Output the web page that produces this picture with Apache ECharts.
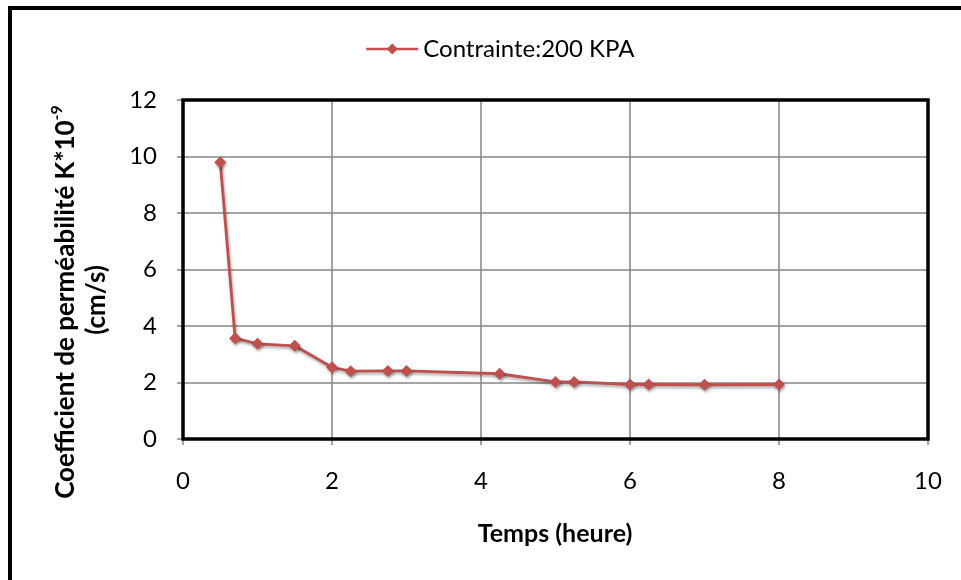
<!DOCTYPE html>
<html>
<head>
<meta charset="utf-8">
<script src="https://cdn.jsdelivr.net/npm/echarts@6/dist/echarts.min.js"></script>
<style>html,body{margin:0;padding:0;background:#fff;}#c{width:961px;height:580px;}</style>
</head>
<body>
<div id="c"></div>
<script>
const seriesName = 'Contrainte:200 KPA';
const timeHours = [0.5, 0.7, 1, 1.5, 2, 2.25, 2.75, 3, 4.25, 5, 5.25, 6, 6.25, 7, 8];
const permeability = [9.8, 3.57, 3.37, 3.3, 2.54, 2.4, 2.41, 2.41, 2.31, 2.02, 2.02, 1.93, 1.93, 1.92, 1.93];
const xTitle = 'Temps (heure)';
const yTitleLine1 = 'Coefficient de perméabilité K*10';
const yTitleSup = '-9';
const yTitleLine2 = '(cm/s)';

const FONT = 'Lato';
const chart = echarts.init(document.getElementById('c'), null, {renderer: 'canvas'});
const data = timeHours.map((t, i) => [t, permeability[i]]);
const PL = 183, PT = 100, PR = 928, PB = 439;
chart.setOption({
  backgroundColor: '#fff',
  animation: false,
  textStyle: {fontFamily: FONT},
  legend: {
    data: [seriesName],
    left: 360, top: 32,
    itemWidth: 52, itemHeight: 14, itemGap: 6,
    lineStyle: {width: 2.5},
    textStyle: {fontFamily: FONT, fontSize: 24, color: '#000'}
  },
  grid: {left: PL, right: 961 - PR, top: PT, bottom: 580 - PB, show: false},
  xAxis: {
    type: 'value', min: 0, max: 10, interval: 2,
    axisLine: {show: false},
    axisTick: {show: true, inside: false, length: 6, lineStyle: {color: '#868686', width: 1.5}},
    splitLine: {show: true, lineStyle: {color: '#868686', width: 1.5}},
    axisLabel: {fontFamily: FONT, fontSize: 24, color: '#000', margin: 30}
  },
  yAxis: {
    type: 'value', min: 0, max: 12, interval: 2,
    axisLine: {show: false},
    axisTick: {show: true, inside: false, length: 6, lineStyle: {color: '#868686', width: 1.5}},
    splitLine: {show: true, lineStyle: {color: '#868686', width: 1.5}},
    axisLabel: {fontFamily: FONT, fontSize: 24, color: '#000', margin: 26}
  },
  series: [{
    name: seriesName,
    type: 'line',
    data: data,
    symbol: 'diamond',
    symbolSize: 12,
    lineStyle: {color: '#C0504D', width: 2.8, shadowBlur: 3, shadowColor: 'rgba(0,0,0,0.35)', shadowOffsetX: 1, shadowOffsetY: 2},
    itemStyle: {color: '#C0504D', shadowBlur: 3, shadowColor: 'rgba(0,0,0,0.35)', shadowOffsetX: 1, shadowOffsetY: 2},
    z: 5
  }],
  graphic: [
    {type: 'rect', shape: {x: 10, y: 8, width: 1200, height: 1200}, style: {fill: 'none', stroke: '#000', lineWidth: 4}, silent: true},
    {type: 'rect', z: 100, shape: {x: PL, y: PT, width: PR - PL, height: PB - PT}, style: {fill: 'none', stroke: '#000', lineWidth: 3.5}, silent: true},
    {type: 'text', x: 555, y: 534, style: {text: xTitle, font: 'bold 25px ' + FONT, fill: '#000', textAlign: 'center', textVerticalAlign: 'middle'}},
    {type: 'text', x: 64, y: 302, rotation: Math.PI / 2,
      style: {
        text: '{a|' + yTitleLine1 + '}{s|' + yTitleSup + '}',
        rich: {
          a: {font: 'bold 26px ' + FONT, fill: '#000', verticalAlign: 'bottom', lineHeight: 30},
          s: {font: 'bold 16px ' + FONT, fill: '#000', verticalAlign: 'top', lineHeight: 30}
        },
        textAlign: 'center', textVerticalAlign: 'middle'
      }},
    {type: 'text', x: 97, y: 300, rotation: Math.PI / 2,
      style: {text: yTitleLine2, font: 'bold 26px ' + FONT, fill: '#000', textAlign: 'center', textVerticalAlign: 'middle'}}
  ]
});
</script>
</body>
</html>
